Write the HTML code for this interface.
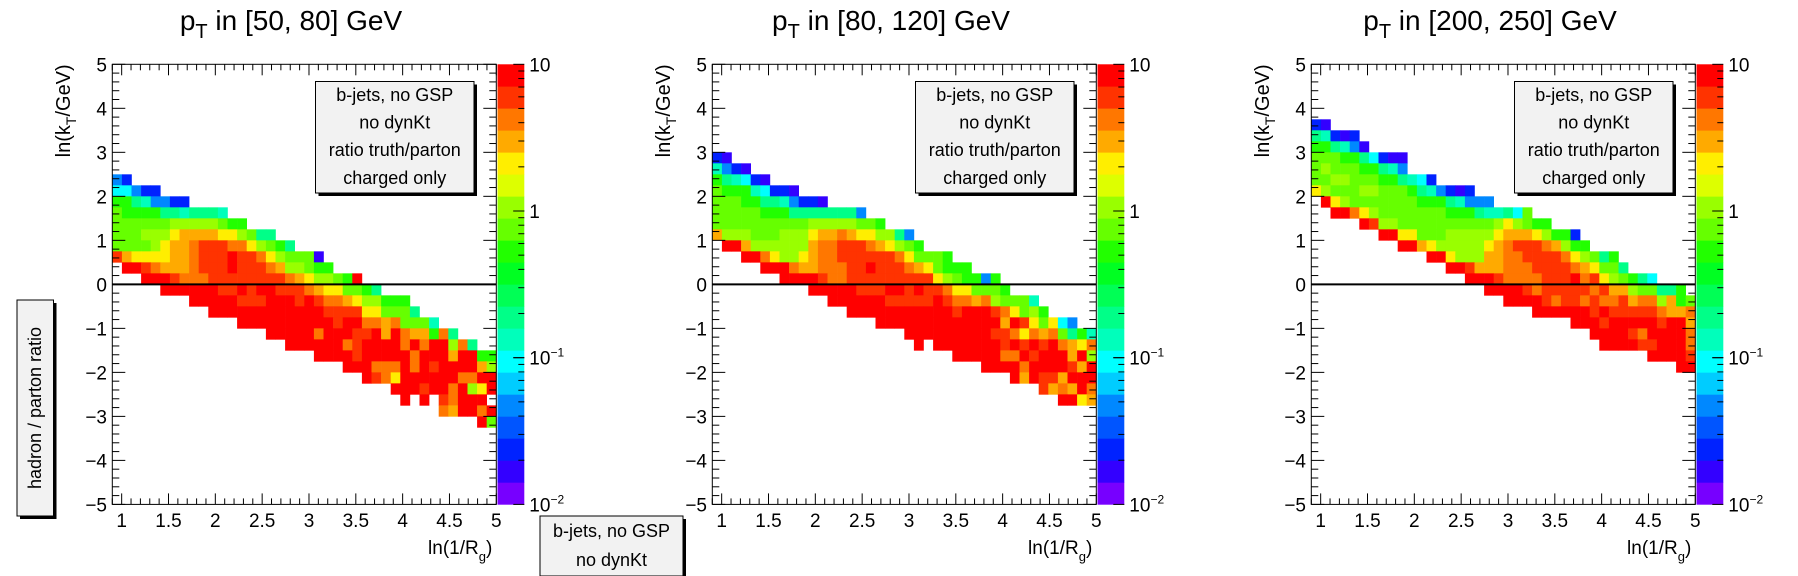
<!DOCTYPE html>
<html><head><meta charset="utf-8"><style>
html,body{margin:0;padding:0;background:#fff;}
svg{display:block;font-family:"Liberation Sans",Arial,sans-serif;}
</style></head><body>
<svg id="root" width="1798" height="576" viewBox="0 0 1798 576" xmlns="http://www.w3.org/2000/svg"></svg>
<script>
// ---- data: colour-level codes per row (rows start at row index kStart, row k covers y in [5-0.25(k+1), 5-0.25k]) ----
const levelCodes = {R:19,r:18,O:17,o:16,Y:15,y:13,L:12,G:11,S:8,A:7,C:6,B:4,b:2,V:1};
const panelTitles = ["[50, 80]","[80, 120]","[200, 250]"];
const kStart1 = 10;
const rows1 = [
"Bb","CCBbb","GGSABBbb","LGGGGSSASSSA","LLLLLLyyyyyLGG","LLLyyyYooooYYyLSS","LLLLyYooOrrrOOYyLGS",
"roYYYYooOrrrRrrOYyLLLV",".RRrOoooOrrrRrrrOoyyLGG","...RRRrOOOrrrrrrrrOoYyyLGR",".....RRRRRRrrRrRRrrrOoYYLLGS",
"........RRRRRrrrRRRrRrOOoYyyGGG","..........RRRRRRRRRRRRrrrrYYLLLS",".............RRRRRRRRRRrRROOoOLLLA",
"................RRRRRORRRrrRoROooGOS","..................RRRRRROrRRRRORORRyOS",".....................RRRRrRRRRRORRRoRRGG",
"........................RRROOORORrRRRRoy","..........................RrOYRRRRRROORR",".............................RRRrRRORyYR",
"..............................R.R.rORRR","..................................OoRROR","......................................RL"];
const kStart2 = 8;
const rows2 = [
"bV","ABbV","GSACbV","LGGGACbbV","LLLGGSSABbbV","LLLLLGGGSSSSSSSB","LLLLLLLLLLyyyyyLLG","oyyyLLLyyyYooOoYYyySB",
".RRoyyyyyyoOOrrrOoYyLG","...RROYyyYoOOrrrrrrOYLLLG",".....RRROooOOOrrRrrrOoYLGGG",".......RRRRrOOrrrrrrrrrYyLGGBG",
"..........RRRRRrrrRRrRrrOYYLLLG","............RRRRRRrrrrrRrOOoOyLLLA","..............RRRRRRRRRRRrRRRrOYLyG",
".................RRRRRRRRRRRRRoRrYLYCB","....................RRRRRRRRRrrOYOoOLSGA",".....................R.RRRRRRRrRrRrROoYO",
".........................RRRRROORrRRRoRy","............................RRRRORRRRroR","...............................RoRrroRRR",
"..................................roOoRO","....................................RRYo"];
const kStart3 = 5;
const rows3 = [
"bV","SAbVb","GGSABV","LLLGGSCbVV","LyLLLGGSAB","LLyyLLLGGSACb","YyLLLyyLLLGSABbVb",".RYyLLLLLLLGGGSABBB",
"..RROYyLLLLLLLGGGSAASCL",".....RryyLLLLLLLLLLyYyLGG",".......RRYYLLLyyyyyYoooYyGGb",".........RRoYyyyyyYoOrrrOoyGG",
"............RRYyyyooOOrrrrOYyLSG","..............RRroooOOOrrrrOoYLLS","................RRRrOOOOrrrROrYyLGSC",
"..................RRRRrOrrrrrOrooyLLSSG","....................RRRRrOrrOrOOroOOyoGL",".......................RRRRRRrRrrrrrOooO",
"...........................RRRrRRRRRrRRo",".............................RRRRrORRRRO","..............................RRRRrrRRRO",
"...................................RRRRr","......................................RR"];
const xTickLabels = ["1","1.5","2","2.5","3","3.5","4","4.5","5"];
const yTickLabels = ["−5","−4","−3","−2","−1","0","1","2","3","4","5"];
const legendLines = ["b-jets, no GSP","no dynKt","ratio truth/parton","charged only"];

// ---- helpers ----
const NS = "http://www.w3.org/2000/svg";
const svg = document.getElementById('root');
function mk(tag, attrs, parent){ const e=document.createElementNS(NS,tag); for(const k in attrs) e.setAttribute(k,attrs[k]); (parent||svg).appendChild(e); return e; }
const palette = ['#7700ff','#3300ff','#0022ff','#0055ff','#0088ff','#00ccff','#00ffff','#00ffbb','#00ff88','#00ff55','#00ff22','#22ff00','#66ff00','#99ff00','#ddff00','#ffee00','#ffaa00','#ff7700','#ff3300','#ff0000'];
const zMin=-2, zMax=1, nBands=20;
function colorOf(v){ let i=Math.floor((Math.log10(v)-zMin)/(zMax-zMin)*nBands); i=Math.max(0,Math.min(nBands-1,i)); return palette[i]; }
function codeToValue(c){ return Math.pow(10, zMin + (levelCodes[c]+0.5)*(zMax-zMin)/nBands); }

const FL=112.3, FR=496.3, FT=64.3, FB=504.4;
const xMin=0.9, xMax=5, yMin=-5, yMax=5, nX=40, yBin=0.25;
function xs(off,x){ return off+FL+(x-xMin)/(xMax-xMin)*(FR-FL); }
function ys(y){ return FB-(y-yMin)/(yMax-yMin)*(FB-FT); }

function drawPanel(p, off, rows, kStart){
  const g = mk('g',{});
  
  
  const t = mk('text',{x:off+291,y:30,'font-size':28,'text-anchor':'middle',fill:'#000'},g);
  
  
  t.innerHTML = 'p<tspan font-size="20" dy="8">T</tspan><tspan dy="-8"> in '+panelTitles[p]+' GeV</tspan>';
  const bw=(xMax-xMin)/nX;
  rows.forEach((row,ri)=>{
    const k=kStart+ri;
    for(let c=0;c<row.length;c++){
      const ch=row[c]; if(ch==='.') continue;
      const v=codeToValue(ch);
      const x0=xMin+c*bw, yTop=yMax-k*yBin;
      const r=mk('rect',{x:xs(off,x0),y:ys(yTop),width:xs(off,x0+bw)-xs(off,x0)+0.3,height:ys(yTop-yBin)-ys(yTop)+0.3,fill:colorOf(v)},g);
      
      
    }
  });
  const zl=mk('line',{x1:off+FL,x2:off+FR,y1:ys(0),y2:ys(0),stroke:'#000','stroke-width':2},g);
  
  
  const fr=mk('rect',{x:off+FL,y:FT,width:FR-FL,height:FB-FT,fill:'none',stroke:'#000','stroke-width':1},g);
  
  
  for(let i=0;i<=50;i++){
    const y=yMin+i*0.2, py=ys(y), maj=(i%5===0), L=maj?13:7;
    mk('line',{x1:off+FL,x2:off+FL+L,y1:py,y2:py,stroke:'#000','stroke-width':1},g);
    mk('line',{x1:off+FR,x2:off+FR-L,y1:py,y2:py,stroke:'#000','stroke-width':1},g);
  }
  yTickLabels.forEach((lab,i)=>{
    const tl=mk('text',{x:off+107,y:ys(yMin+i)+7,'font-size':19,'text-anchor':'end'},g);
    
    
    tl.textContent=lab;
  });
  for(let i=0;i<=41;i++){
    const x=0.9+i*0.1; if(x>5.001) break;
    const px=xs(off,x), maj=(Math.round(x*10)%5===0), L=maj?11:6;
    mk('line',{x1:px,x2:px,y1:FB,y2:FB-L,stroke:'#000','stroke-width':1},g);
    mk('line',{x1:px,x2:px,y1:FT,y2:FT+L,stroke:'#000','stroke-width':1},g);
  }
  xTickLabels.forEach((lab,i)=>{
    const tl=mk('text',{x:xs(off,1+0.5*i),y:527,'font-size':19,'text-anchor':'middle'},g);
    
    
    tl.textContent=lab;
  });
  const xt=mk('text',{x:off+FR-4,y:554,'font-size':19,'text-anchor':'end'},g);
  
  
  xt.innerHTML='ln(1/R<tspan font-size="13" dy="7">g</tspan><tspan dy="-7">)</tspan>';
  const yt=mk('text',{x:0,y:0,'font-size':20,'text-anchor':'end',transform:'translate('+(off+70)+','+FT+') rotate(-90)'},g);
  
  
  yt.innerHTML='ln(k<tspan font-size="14" dy="6">T</tspan><tspan dy="-6">/GeV)</tspan>';
  const pl=off+497.5, pw=26.8;
  for(let i=0;i<nBands;i++){
    const y1=FB-(i+1)*(FB-FT)/nBands;
    const pr=mk('rect',{x:pl,y:y1,width:pw,height:(FB-FT)/nBands+0.3,fill:palette[i]},g);
    
    
  }
  for(let d=-2; d<1; d++){
    for(let m=1;m<=10;m++){
      const lv=d+Math.log10(m); const py=FB-(lv-zMin)/(zMax-zMin)*(FB-FT);
      const L=(m===1||m===10)?11:6;
      mk('line',{x1:pl+pw,x2:pl+pw-L,y1:py,y2:py,stroke:'#000','stroke-width':1},g);
    }
  }
  const zl2=[["10",null,FT],["1",null,FT+(FB-FT)/3],["10","−1",FT+2*(FB-FT)/3],["10","−2",FB]];
  zl2.forEach(([b,e,py])=>{
    const tl=mk('text',{x:pl+pw+5,y:py+7,'font-size':19},g);
    
    
    tl.innerHTML = b + (e? '<tspan font-size="12" dy="-8">'+e+'</tspan>':'');
  });
  const lx=off+315.5, ly=81.5, lw=158.5, lh=111.5;
  mk('rect',{x:lx+3,y:ly+3,width:lw,height:lh,fill:'#000'},g);
  const lb=mk('rect',{x:lx,y:ly,width:lw,height:lh,fill:'#f2f2f2',stroke:'#000','stroke-width':1},g);
  
  
  legendLines.forEach((s,i)=>{
    const tl=mk('text',{x:lx+lw/2,y:101+i*27.6,'font-size':18,'text-anchor':'middle'},g);
    
    
    tl.textContent=s;
  });
}
drawPanel(0,0,rows1,kStart1);
drawPanel(1,600,rows2,kStart2);
drawPanel(2,1199,rows3,kStart3);

mk('rect',{x:20,y:303,width:36.5,height:216,fill:'#000'});
const lbx=mk('rect',{x:17,y:300,width:36.5,height:216,fill:'#f2f2f2',stroke:'#000','stroke-width':1});


const lt=mk('text',{x:0,y:0,'font-size':18,'text-anchor':'middle',transform:'translate(41,408) rotate(-90)'});


lt.textContent='hadron / parton ratio';
mk('rect',{x:543,y:519,width:143,height:60,fill:'#000'});
const bbx=mk('rect',{x:540,y:516,width:143,height:60,fill:'#f2f2f2',stroke:'#000','stroke-width':1});


["b-jets, no GSP","no dynKt"].forEach((s,i)=>{
  const tl=mk('text',{x:611.5,y:537+i*29,'font-size':18,'text-anchor':'middle'});
  
  
  tl.textContent=s;
});
</script>
</body></html>
